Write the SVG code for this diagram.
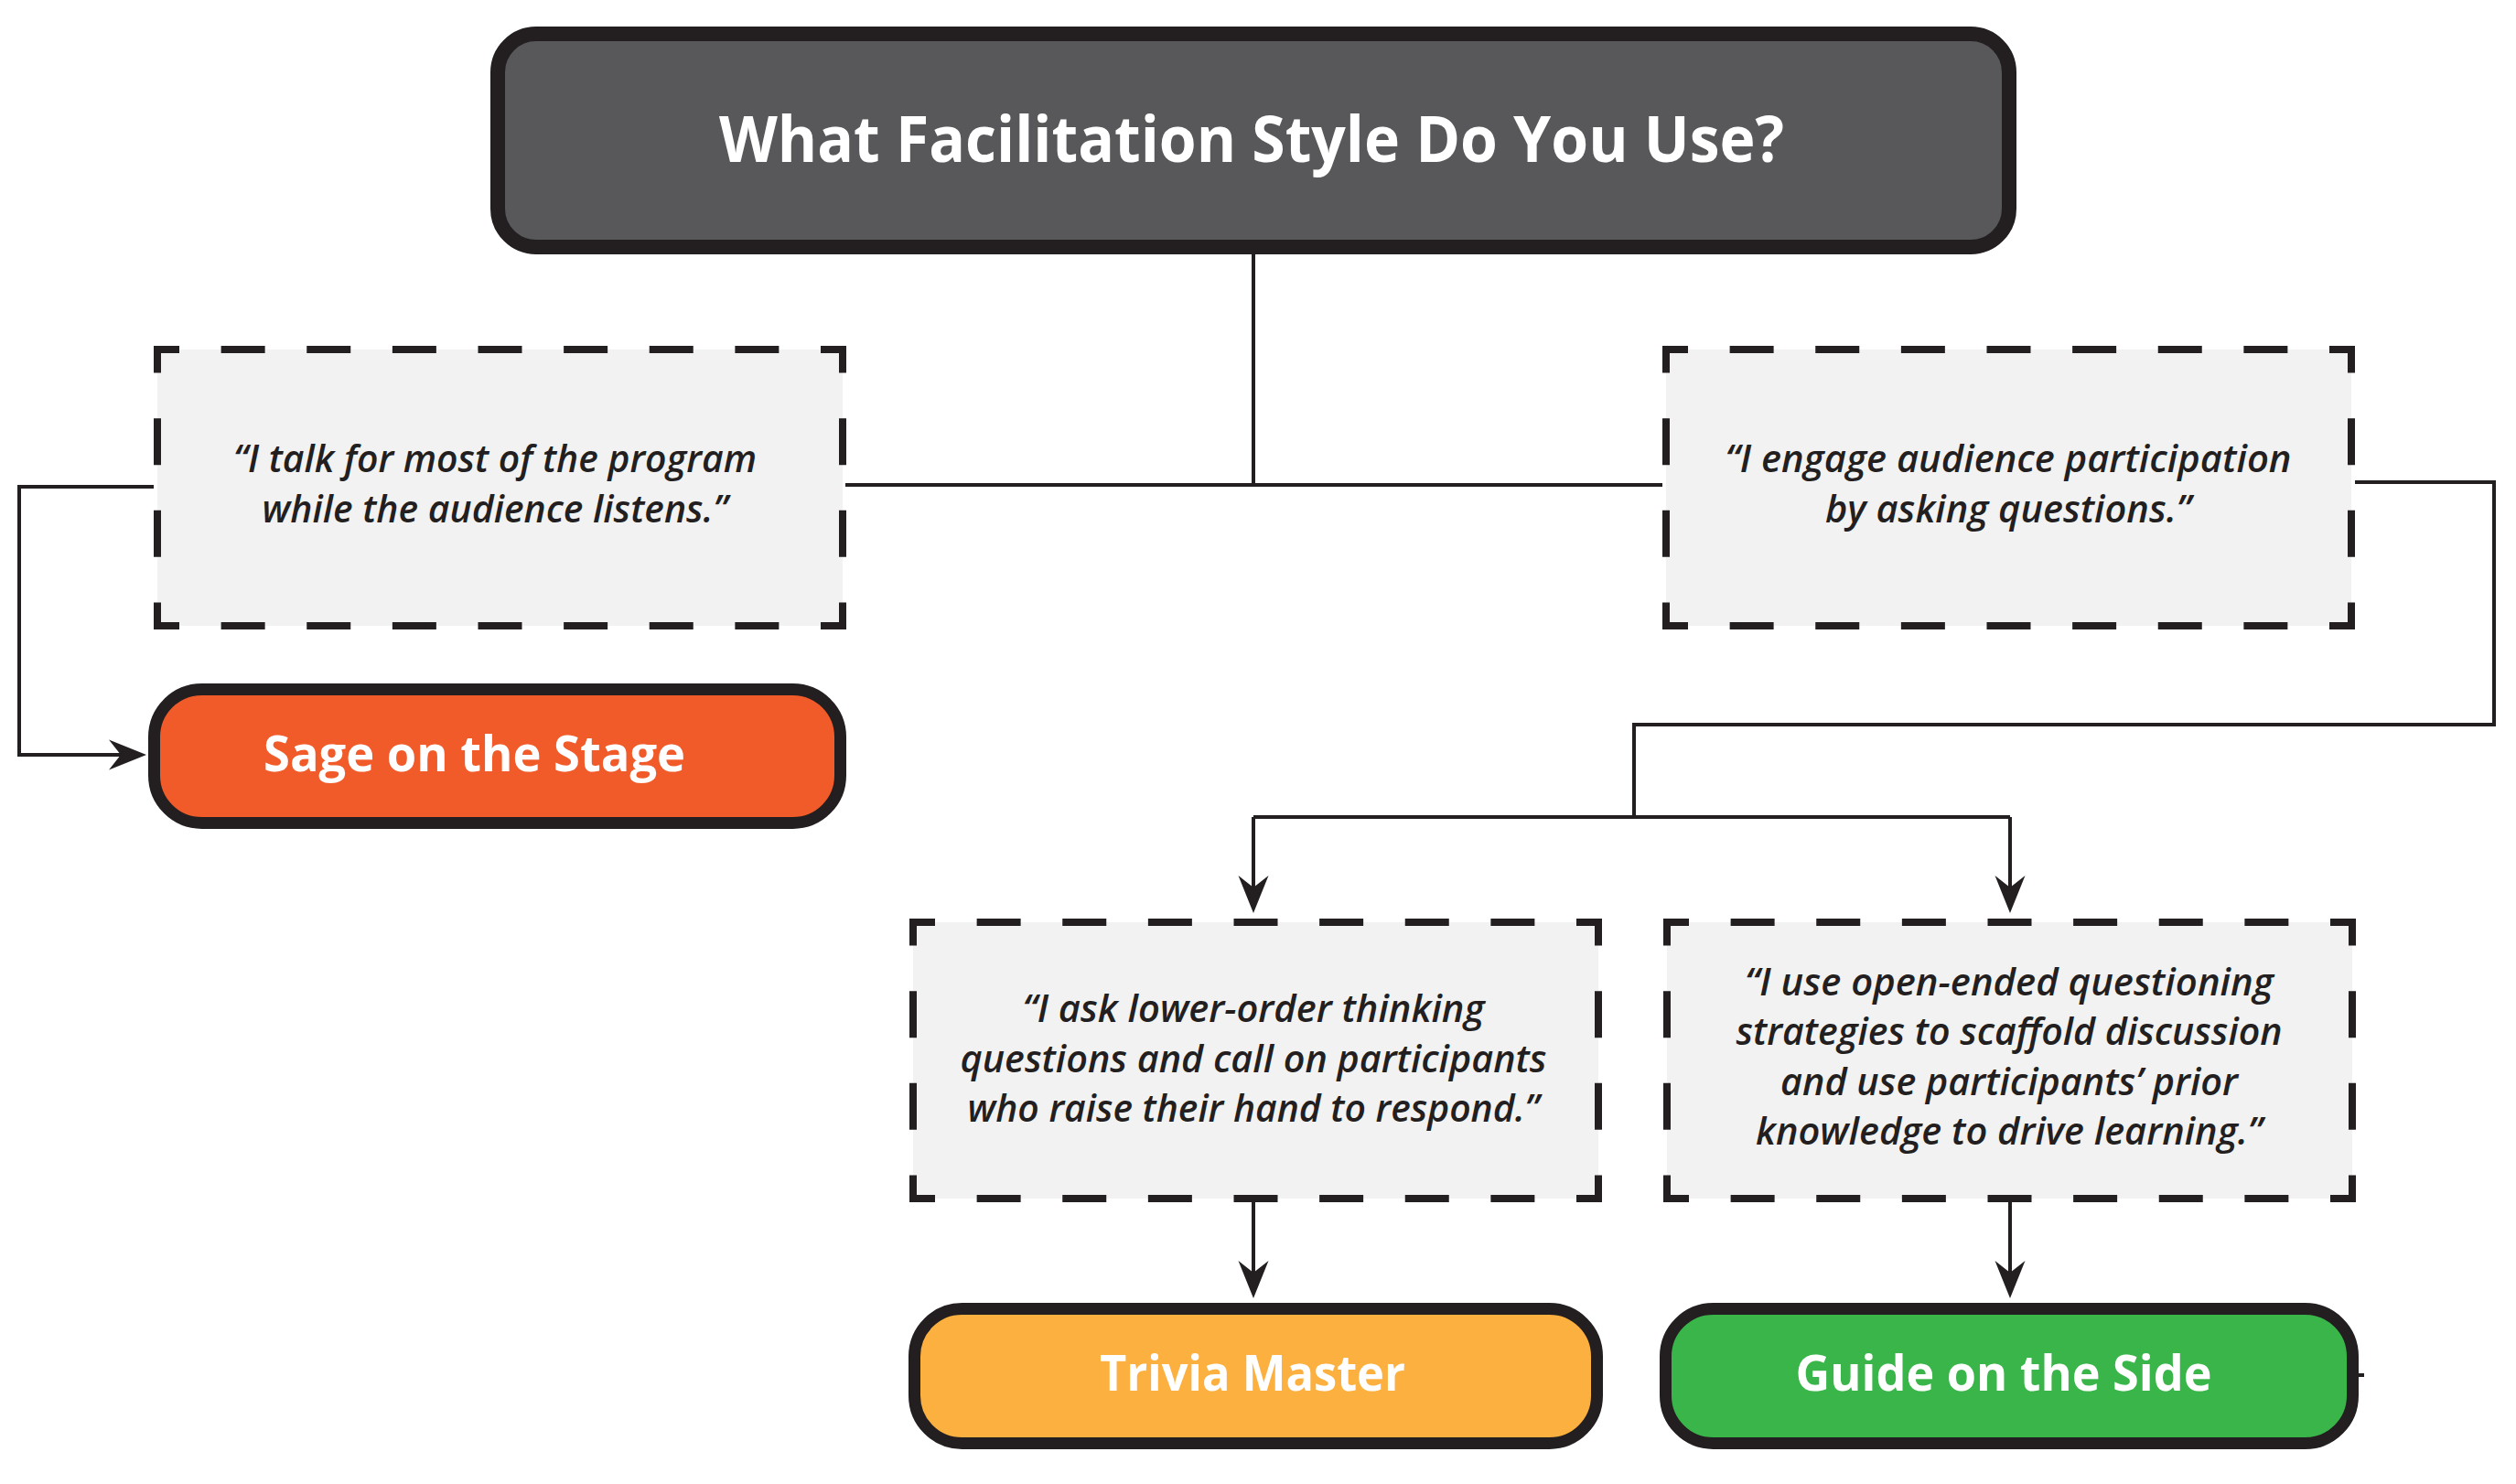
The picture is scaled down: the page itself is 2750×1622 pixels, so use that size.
<svg xmlns="http://www.w3.org/2000/svg" width="2750" height="1622" viewBox="0 0 2750 1622">
<defs>
<style>
.conn{fill:none;stroke:#231f20;stroke-width:4}
.qbg{fill:#f2f2f2}
.dh{stroke:#231f20;stroke-width:8;fill:none;stroke-dasharray:48 45.625;stroke-dashoffset:20}
.dv{stroke:#231f20;stroke-width:8;fill:none;stroke-dasharray:51 49.667;stroke-dashoffset:21.5}
.q{font-family:"Open Sans","Liberation Sans",sans-serif;font-style:italic;font-weight:600;font-size:41px;fill:#231f20;text-anchor:middle}
.lbl{font-family:"Open Sans","Liberation Sans",sans-serif;font-weight:700;font-size:53px;fill:#ffffff;text-anchor:middle}
.term{stroke:#231f20;stroke-width:13}
</style>
<marker id="ah" markerUnits="userSpaceOnUse" viewBox="-42 -18 54 36" markerWidth="54" markerHeight="36" refX="-10" refY="0" orient="auto"><path d="M0,0 L-41,-16.5 L-28,0 L-41,16.5 Z" fill="#231f20"/></marker>
</defs>
<rect width="2750" height="1622" fill="#ffffff"/>
<g id="connectors">
<path class="conn" d="M1370,270 V530"/>
<path class="conn" d="M924,530 H1817"/>
<path class="conn" d="M168,532 H21 V825 H150" marker-end="url(#ah)"/>
<path class="conn" d="M2574,527 H2726 V792 H1786 V893"/>
<path class="conn" d="M1370,893 H2197"/>
<path class="conn" d="M1370,893 V988" marker-end="url(#ah)"/>
<path class="conn" d="M2197,893 V988" marker-end="url(#ah)"/>
<path class="conn" d="M1370,1314 V1409" marker-end="url(#ah)"/>
<path class="conn" d="M2197,1314 V1409" marker-end="url(#ah)"/>
<path class="conn" d="M2576,1503 H2584"/>
</g>
<g id="title">
<rect x="544" y="37" width="1652" height="233" rx="42" fill="#58585a" stroke="#231f20" stroke-width="16"/>
<text x="1368" y="177" font-family="'Open Sans','Liberation Sans',sans-serif" font-weight="700" font-size="70" fill="#ffffff" text-anchor="middle" textLength="1164" lengthAdjust="spacingAndGlyphs">What Facilitation Style Do You Use?</text>
</g>
<g id="quote-talk" transform="translate(168,378)">
<rect class="qbg" x="4" y="4" width="749" height="302"/>
<path class="dh" d="M0,4 H757"/><path class="dh" d="M0,306 H757"/>
<path class="dv" d="M4,0 V310"/><path class="dv" d="M753,0 V310"/>
<text class="q" x="373" y="138" textLength="572" lengthAdjust="spacingAndGlyphs">“I talk for most of the program</text>
<text class="q" x="373" y="193" textLength="509" lengthAdjust="spacingAndGlyphs">while the audience listens.”</text>
</g>
<g id="quote-engage" transform="translate(1817,378)">
<rect class="qbg" x="4" y="4" width="749" height="302"/>
<path class="dh" d="M0,4 H757"/><path class="dh" d="M0,306 H757"/>
<path class="dv" d="M4,0 V310"/><path class="dv" d="M753,0 V310"/>
<text class="q" x="378" y="138" textLength="619" lengthAdjust="spacingAndGlyphs">“I engage audience participation</text>
<text class="q" x="378" y="193" textLength="400" lengthAdjust="spacingAndGlyphs">by asking questions.”</text>
</g>
<g id="quote-lower" transform="translate(994,1004)">
<rect class="qbg" x="4" y="4" width="749" height="302"/>
<path class="dh" d="M0,4 H757"/><path class="dh" d="M0,306 H757"/>
<path class="dv" d="M4,0 V310"/><path class="dv" d="M753,0 V310"/>
<text class="q" x="376" y="113" textLength="505" lengthAdjust="spacingAndGlyphs">“I ask lower-order thinking</text>
<text class="q" x="376" y="167.5" textLength="641" lengthAdjust="spacingAndGlyphs">questions and call on participants</text>
<text class="q" x="376" y="222" textLength="625" lengthAdjust="spacingAndGlyphs">who raise their hand to respond.”</text>
</g>
<g id="quote-open" transform="translate(1818,1004)">
<rect class="qbg" x="4" y="4" width="749" height="302"/>
<path class="dh" d="M0,4 H757"/><path class="dh" d="M0,306 H757"/>
<path class="dv" d="M4,0 V310"/><path class="dv" d="M753,0 V310"/>
<text class="q" x="378" y="83.5" textLength="578" lengthAdjust="spacingAndGlyphs">“I use open-ended questioning</text>
<text class="q" x="378" y="138" textLength="597" lengthAdjust="spacingAndGlyphs">strategies to scaffold discussion</text>
<text class="q" x="378" y="192.5" textLength="500" lengthAdjust="spacingAndGlyphs">and use participants’ prior</text>
<text class="q" x="378" y="247" textLength="554" lengthAdjust="spacingAndGlyphs">knowledge to drive learning.”</text>
</g>
<g id="sage">
<rect class="term" x="168.5" y="753.5" width="750" height="146" rx="52" fill="#f15a29"/>
<text class="lbl" x="518.5" y="843" textLength="461" lengthAdjust="spacingAndGlyphs">Sage on the Stage</text>
</g>
<g id="trivia">
<rect class="term" x="999.5" y="1430.5" width="746" height="147" rx="52" fill="#fbb040"/>
<text class="lbl" x="1369" y="1520" textLength="334" lengthAdjust="spacingAndGlyphs">Trivia Master</text>
</g>
<g id="guide">
<rect class="term" x="1820.5" y="1430.5" width="751" height="147" rx="52" fill="#39b54a"/>
<text class="lbl" x="2190" y="1520" textLength="455" lengthAdjust="spacingAndGlyphs">Guide on the Side</text>
</g>
</svg>
